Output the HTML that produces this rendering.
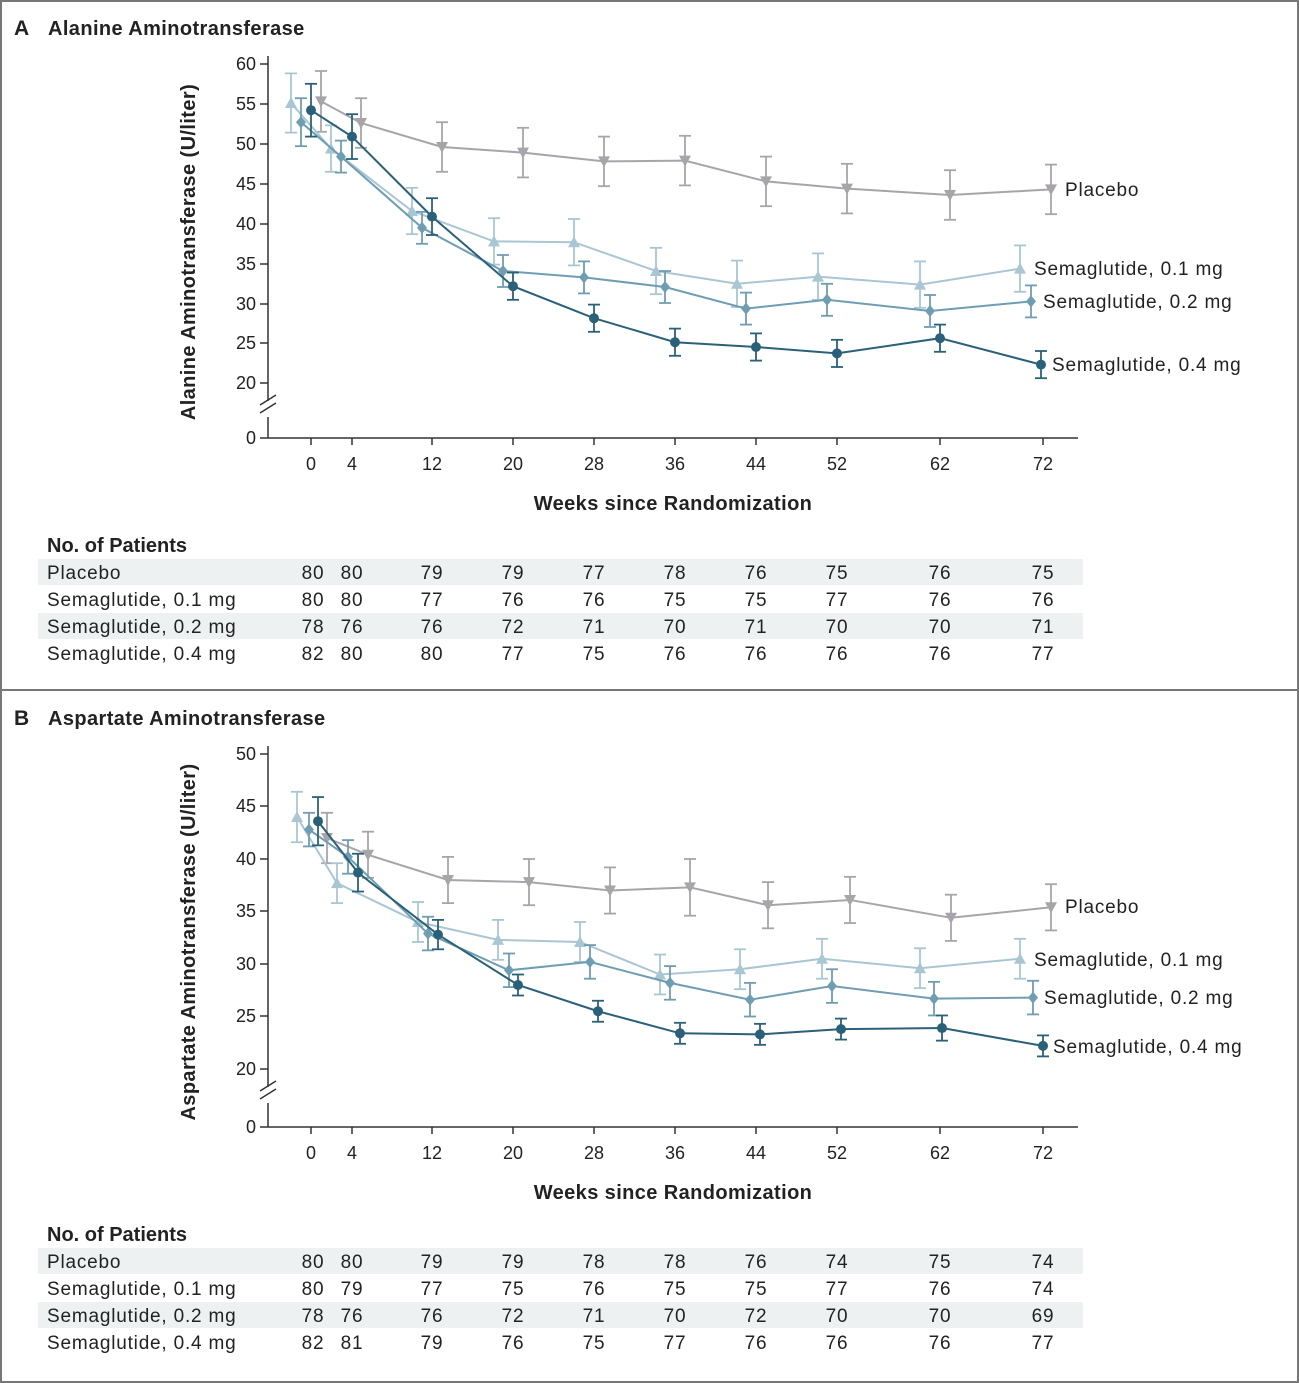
<!DOCTYPE html>
<html><head><meta charset="utf-8"><style>
body{margin:0;background:#fff}
svg{display:block;font-family:"Liberation Sans",sans-serif}
.t{font-size:18px;fill:#222}
.tb{font-size:19px;fill:#222;letter-spacing:0.8px}
.ax{letter-spacing:0.4px}
</style></head><body>
<svg id="s" width="1299" height="1383" viewBox="0 0 1299 1383" xmlns="http://www.w3.org/2000/svg">
<rect x="1" y="1" width="1297" height="1381" fill="#fff" stroke="#777" stroke-width="2"/>
<line x1="0" y1="690" x2="1299" y2="690" stroke="#777" stroke-width="2"/>
<text x="14" y="35" font-size="21" font-weight="bold" fill="#222">A</text>
<text x="48" y="35" font-size="20" font-weight="bold" fill="#222" class="ax">Alanine Aminotransferase</text>
<text transform="translate(195,252) rotate(-90)" text-anchor="middle" font-size="20" font-weight="bold" fill="#222" class="ax">Alanine Aminotransferase (U/liter)</text>
<text x="673" y="510" text-anchor="middle" font-size="20" font-weight="bold" fill="#222" class="ax">Weeks since Randomization</text>
<g class="t" text-anchor="end">
<text x="256" y="70">60</text><text x="256" y="110">55</text><text x="256" y="150">50</text><text x="256" y="190">45</text><text x="256" y="230">40</text><text x="256" y="270">35</text><text x="256" y="310">30</text><text x="256" y="349">25</text><text x="256" y="389">20</text><text x="256" y="444">0</text>
</g>
<g class="t" text-anchor="middle">
<text x="311" y="470">0</text><text x="352" y="470">4</text><text x="432" y="470">12</text><text x="513" y="470">20</text><text x="594" y="470">28</text><text x="675" y="470">36</text><text x="756" y="470">44</text><text x="837" y="470">52</text><text x="940" y="470">62</text><text x="1043" y="470">72</text>
</g>
<g class="tb">
<text x="1065" y="196">Placebo</text>
<text x="1034" y="275">Semaglutide, 0.1 mg</text>
<text x="1043" y="308">Semaglutide, 0.2 mg</text>
<text x="1052" y="371">Semaglutide, 0.4 mg</text>
</g>
<rect x="38" y="559" width="1045" height="26" fill="#eef1f1"/>
<rect x="38" y="613" width="1045" height="26" fill="#eef1f1"/>
<text x="47" y="552" font-size="20" font-weight="bold" fill="#222">No. of Patients</text>
<g class="tb">
<text x="47" y="579">Placebo</text><text x="47" y="606">Semaglutide, 0.1 mg</text><text x="47" y="633">Semaglutide, 0.2 mg</text><text x="47" y="660">Semaglutide, 0.4 mg</text>
</g>
<g class="tb" text-anchor="middle">
<text y="579"><tspan x="313">80</tspan><tspan x="352">80</tspan><tspan x="432">79</tspan><tspan x="513">79</tspan><tspan x="594">77</tspan><tspan x="675">78</tspan><tspan x="756">76</tspan><tspan x="837">75</tspan><tspan x="940">76</tspan><tspan x="1043">75</tspan></text>
<text y="606"><tspan x="313">80</tspan><tspan x="352">80</tspan><tspan x="432">77</tspan><tspan x="513">76</tspan><tspan x="594">76</tspan><tspan x="675">75</tspan><tspan x="756">75</tspan><tspan x="837">77</tspan><tspan x="940">76</tspan><tspan x="1043">76</tspan></text>
<text y="633"><tspan x="313">78</tspan><tspan x="352">76</tspan><tspan x="432">76</tspan><tspan x="513">72</tspan><tspan x="594">71</tspan><tspan x="675">70</tspan><tspan x="756">71</tspan><tspan x="837">70</tspan><tspan x="940">70</tspan><tspan x="1043">71</tspan></text>
<text y="660"><tspan x="313">82</tspan><tspan x="352">80</tspan><tspan x="432">80</tspan><tspan x="513">77</tspan><tspan x="594">75</tspan><tspan x="675">76</tspan><tspan x="756">76</tspan><tspan x="837">76</tspan><tspan x="940">76</tspan><tspan x="1043">77</tspan></text>
</g>
<text x="14" y="725" font-size="21" font-weight="bold" fill="#222">B</text>
<text x="48" y="725" font-size="20" font-weight="bold" fill="#222" class="ax">Aspartate Aminotransferase</text>
<text transform="translate(195,942) rotate(-90)" text-anchor="middle" font-size="20" font-weight="bold" fill="#222" class="ax">Aspartate Aminotransferase (U/liter)</text>
<text x="673" y="1199" text-anchor="middle" font-size="20" font-weight="bold" fill="#222" class="ax">Weeks since Randomization</text>
<g class="t" text-anchor="end">
<text x="256" y="760">50</text><text x="256" y="812">45</text><text x="256" y="865">40</text><text x="256" y="917">35</text><text x="256" y="970">30</text><text x="256" y="1022">25</text><text x="256" y="1075">20</text><text x="256" y="1133">0</text>
</g>
<g class="t" text-anchor="middle">
<text x="311" y="1159">0</text><text x="352" y="1159">4</text><text x="432" y="1159">12</text><text x="513" y="1159">20</text><text x="594" y="1159">28</text><text x="675" y="1159">36</text><text x="756" y="1159">44</text><text x="837" y="1159">52</text><text x="940" y="1159">62</text><text x="1043" y="1159">72</text>
</g>
<g class="tb">
<text x="1065" y="913">Placebo</text>
<text x="1034" y="966">Semaglutide, 0.1 mg</text>
<text x="1044" y="1004">Semaglutide, 0.2 mg</text>
<text x="1053" y="1053">Semaglutide, 0.4 mg</text>
</g>
<rect x="38" y="1248" width="1045" height="26" fill="#eef1f1"/>
<rect x="38" y="1302" width="1045" height="26" fill="#eef1f1"/>
<text x="47" y="1241" font-size="20" font-weight="bold" fill="#222">No. of Patients</text>
<g class="tb">
<text x="47" y="1268">Placebo</text><text x="47" y="1295">Semaglutide, 0.1 mg</text><text x="47" y="1322">Semaglutide, 0.2 mg</text><text x="47" y="1349">Semaglutide, 0.4 mg</text>
</g>
<g class="tb" text-anchor="middle">
<text y="1268"><tspan x="313">80</tspan><tspan x="352">80</tspan><tspan x="432">79</tspan><tspan x="513">79</tspan><tspan x="594">78</tspan><tspan x="675">78</tspan><tspan x="756">76</tspan><tspan x="837">74</tspan><tspan x="940">75</tspan><tspan x="1043">74</tspan></text>
<text y="1295"><tspan x="313">80</tspan><tspan x="352">79</tspan><tspan x="432">77</tspan><tspan x="513">75</tspan><tspan x="594">76</tspan><tspan x="675">75</tspan><tspan x="756">75</tspan><tspan x="837">77</tspan><tspan x="940">76</tspan><tspan x="1043">74</tspan></text>
<text y="1322"><tspan x="313">78</tspan><tspan x="352">76</tspan><tspan x="432">76</tspan><tspan x="513">72</tspan><tspan x="594">71</tspan><tspan x="675">70</tspan><tspan x="756">72</tspan><tspan x="837">70</tspan><tspan x="940">70</tspan><tspan x="1043">69</tspan></text>
<text y="1349"><tspan x="313">82</tspan><tspan x="352">81</tspan><tspan x="432">79</tspan><tspan x="513">76</tspan><tspan x="594">75</tspan><tspan x="675">77</tspan><tspan x="756">76</tspan><tspan x="837">76</tspan><tspan x="940">76</tspan><tspan x="1043">77</tspan></text>
</g>
<g id="plots"></g>
</svg>
<script>
const NS="http://www.w3.org/2000/svg",g=document.getElementById("plots");
function el(t,a){const e=document.createElementNS(NS,t);for(const k in a)e.setAttribute(k,a[k]);g.appendChild(e);return e;}
function axes(top,y20,y0,ticks){
 el("line",{x1:268,y1:top-8,x2:268,y2:y20+18,stroke:"#333","stroke-width":1.5});
 el("line",{x1:268,y1:y20+34,x2:268,y2:y0,stroke:"#333","stroke-width":1.5});
 el("line",{x1:260,y1:y20+22,x2:276,y2:y20+12,stroke:"#333","stroke-width":1.5});
 el("line",{x1:260,y1:y20+30,x2:276,y2:y20+20,stroke:"#333","stroke-width":1.5});
 el("line",{x1:268,y1:y0,x2:1078,y2:y0,stroke:"#333","stroke-width":1.5});
 ticks.forEach(y=>el("line",{x1:260,y1:y,x2:268,y2:y,stroke:"#333","stroke-width":1.5}));
 [311,352,432,513,594,675,756,837,940,1043].forEach(x=>el("line",{x1:x,y1:y0,x2:x,y2:y0+7,stroke:"#333","stroke-width":1.5}));
}
axes(64,383,438,[64,104,144,184,224,264,304,343,383,438]);
axes(754,1069,1127,[754,806,859,911,964,1016,1069,1127]);
function series(pts,sc,err,col,mk){
 el("polyline",{points:pts.map(p=>p[0]+","+sc(p[1])).join(" "),fill:"none",stroke:col,"stroke-width":2});
 pts.forEach((p,i)=>{const x=p[0],y=sc(p[1]);const e=(p[2]||err)*Math.abs(sc(1)-sc(0));
  el("line",{x1:x,y1:y-e,x2:x,y2:y+e,stroke:col,"stroke-width":1.8});
  el("line",{x1:x-6,y1:y-e,x2:x+6,y2:y-e,stroke:col,"stroke-width":1.8});
  el("line",{x1:x-6,y1:y+e,x2:x+6,y2:y+e,stroke:col,"stroke-width":1.8});
  if(mk=="dn")el("polygon",{points:`${x-6},${y-5} ${x+6},${y-5} ${x},${y+6}`,fill:col});
  else if(mk=="up")el("polygon",{points:`${x-6},${y+5} ${x+6},${y+5} ${x},${y-6}`,fill:col});
  else if(mk=="dm")el("polygon",{points:`${x},${y-6} ${x+5},${y} ${x},${y+6} ${x-5},${y}`,fill:col});
  else el("circle",{cx:x,cy:y,r:5,fill:col});
 });
}
const A=v=>383-(v-20)*8, B=v=>1069-(v-20)*10.5;
const P="#a7a5aa",S1="#a9c6d3",S2="#6f9db2",S4="#2a6178";
series([[321,55.2,3.8],[361,52.5],[442,49.5],[523,48.8],[604,47.7],[685,47.8],[766,45.2],[847,44.3],[950,43.5],[1051,44.2]],A,3.1,P,"dn");
series([[291,55,3.7],[331,49.3],[412,41.5],[494,37.7],[574,37.6],[656,34],[737,32.4],[818,33.3],[920,32.3],[1020,34.3]],A,2.9,S1,"up");
series([[301,52.6,3],[341,48.3],[422,39.4],[503,34],[584,33.2],[665,32],[746,29.3],[827,30.4],[930,29],[1031,30.2]],A,2,S2,"dm");
series([[311,54.1,3.3],[352,50.8,2.8],[432,40.8,2.3],[513,32.1],[594,28.1],[675,25.1],[756,24.5],[837,23.7],[940,25.6],[1041,22.3]],A,1.7,S4,"c");
series([[327,42,2.4],[368,40.4],[448,38],[529,37.8],[610,37],[690,37.3,2.7],[768,35.6],[850,36.1],[951,34.4],[1051,35.4]],B,2.2,P,"dn");
series([[297,44,2.4],[337,37.7],[418,34],[498,32.3],[580,32.1],[660,29],[740,29.5],[822,30.5],[920,29.6],[1020,30.5]],B,1.9,S1,"up");
series([[309,42.8],[348,40.2],[428,32.9],[509,29.4],[590,30.2],[670,28.2],[750,26.6],[832,27.9],[934,26.7],[1033,26.8]],B,1.6,S2,"dm");
series([[318,43.6,2.3],[358,38.7,1.8],[438,32.8,1.4],[518,28],[598,25.5],[680,23.4],[760,23.3],[841,23.8],[942,23.9,1.2],[1043,22.2]],B,1,S4,"c");
</script>
</body></html>
